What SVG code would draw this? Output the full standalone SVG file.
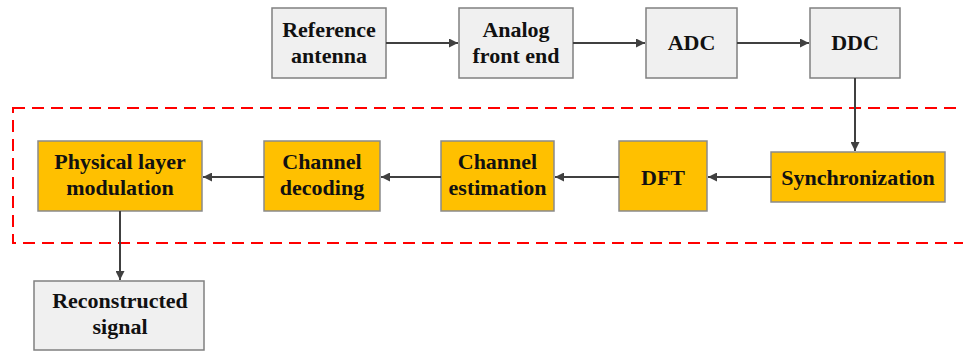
<svg xmlns="http://www.w3.org/2000/svg" width="963" height="352" viewBox="0 0 963 352">
<defs>
<marker id="ah" viewBox="0 0 10 10" refX="10" refY="5" markerWidth="13" markerHeight="9" markerUnits="userSpaceOnUse" orient="auto"><path d="M0,0 L10,5 L0,10 z" fill="#404040"/></marker>
<style>
.g{fill:#f0f0f0;stroke:#808080;stroke-width:1.5}
.o{fill:#ffc000;stroke:#8a8a8a;stroke-width:1.5}
.t{font-family:'Liberation Serif',serif;font-weight:bold;font-size:22px;fill:#111;text-anchor:middle}
.c{stroke:#404040;stroke-width:2;fill:none;marker-end:url(#ah)}
</style>
</defs>
<rect x="13" y="108" width="960" height="135" fill="none" stroke="#ff0000" stroke-width="2" stroke-dasharray="12,7"/>
<g id="ref"><rect class="g" x="272" y="8" width="114" height="70"/><text class="t" x="329" y="37">Reference</text><text class="t" x="329" y="63">antenna</text></g>
<g id="afe"><rect class="g" x="459" y="8" width="114" height="70"/><text class="t" x="516" y="37">Analog</text><text class="t" x="516" y="63">front end</text></g>
<g id="adc"><rect class="g" x="646" y="8" width="91" height="70"/><text class="t" x="691.5" y="50">ADC</text></g>
<g id="ddc"><rect class="g" x="810" y="8" width="90" height="70"/><text class="t" x="855" y="50">DDC</text></g>
<g id="sync"><rect class="o" x="771" y="152" width="174" height="50"/><text class="t" x="858" y="185">Synchronization</text></g>
<g id="dft"><rect class="o" x="619" y="141" width="88" height="70"/><text class="t" x="663" y="185">DFT</text></g>
<g id="est"><rect class="o" x="441" y="141" width="113" height="70"/><text class="t" x="497.5" y="169">Channel</text><text class="t" x="497.5" y="195">estimation</text></g>
<g id="dec"><rect class="o" x="264" y="141" width="116" height="70"/><text class="t" x="322" y="169">Channel</text><text class="t" x="322" y="195">decoding</text></g>
<g id="phy"><rect class="o" x="38" y="141" width="164" height="70"/><text class="t" x="120" y="169">Physical layer</text><text class="t" x="120" y="195">modulation</text></g>
<g id="rec"><rect class="g" x="34" y="281" width="170" height="69"/><text class="t" x="120" y="308">Reconstructed</text><text class="t" x="120" y="334">signal</text></g>
<g id="connectors">
<line class="c" x1="386" y1="43" x2="458" y2="43"/>
<line class="c" x1="573" y1="43" x2="645" y2="43"/>
<line class="c" x1="737" y1="43" x2="809" y2="43"/>
<line class="c" x1="855" y1="78" x2="855" y2="151"/>
<line class="c" x1="771" y1="177" x2="708" y2="177"/>
<line class="c" x1="619" y1="177" x2="555" y2="177"/>
<line class="c" x1="441" y1="177" x2="381" y2="177"/>
<line class="c" x1="264" y1="177" x2="203" y2="177"/>
<line class="c" x1="120" y1="211" x2="120" y2="280"/>
</g>
</svg>
